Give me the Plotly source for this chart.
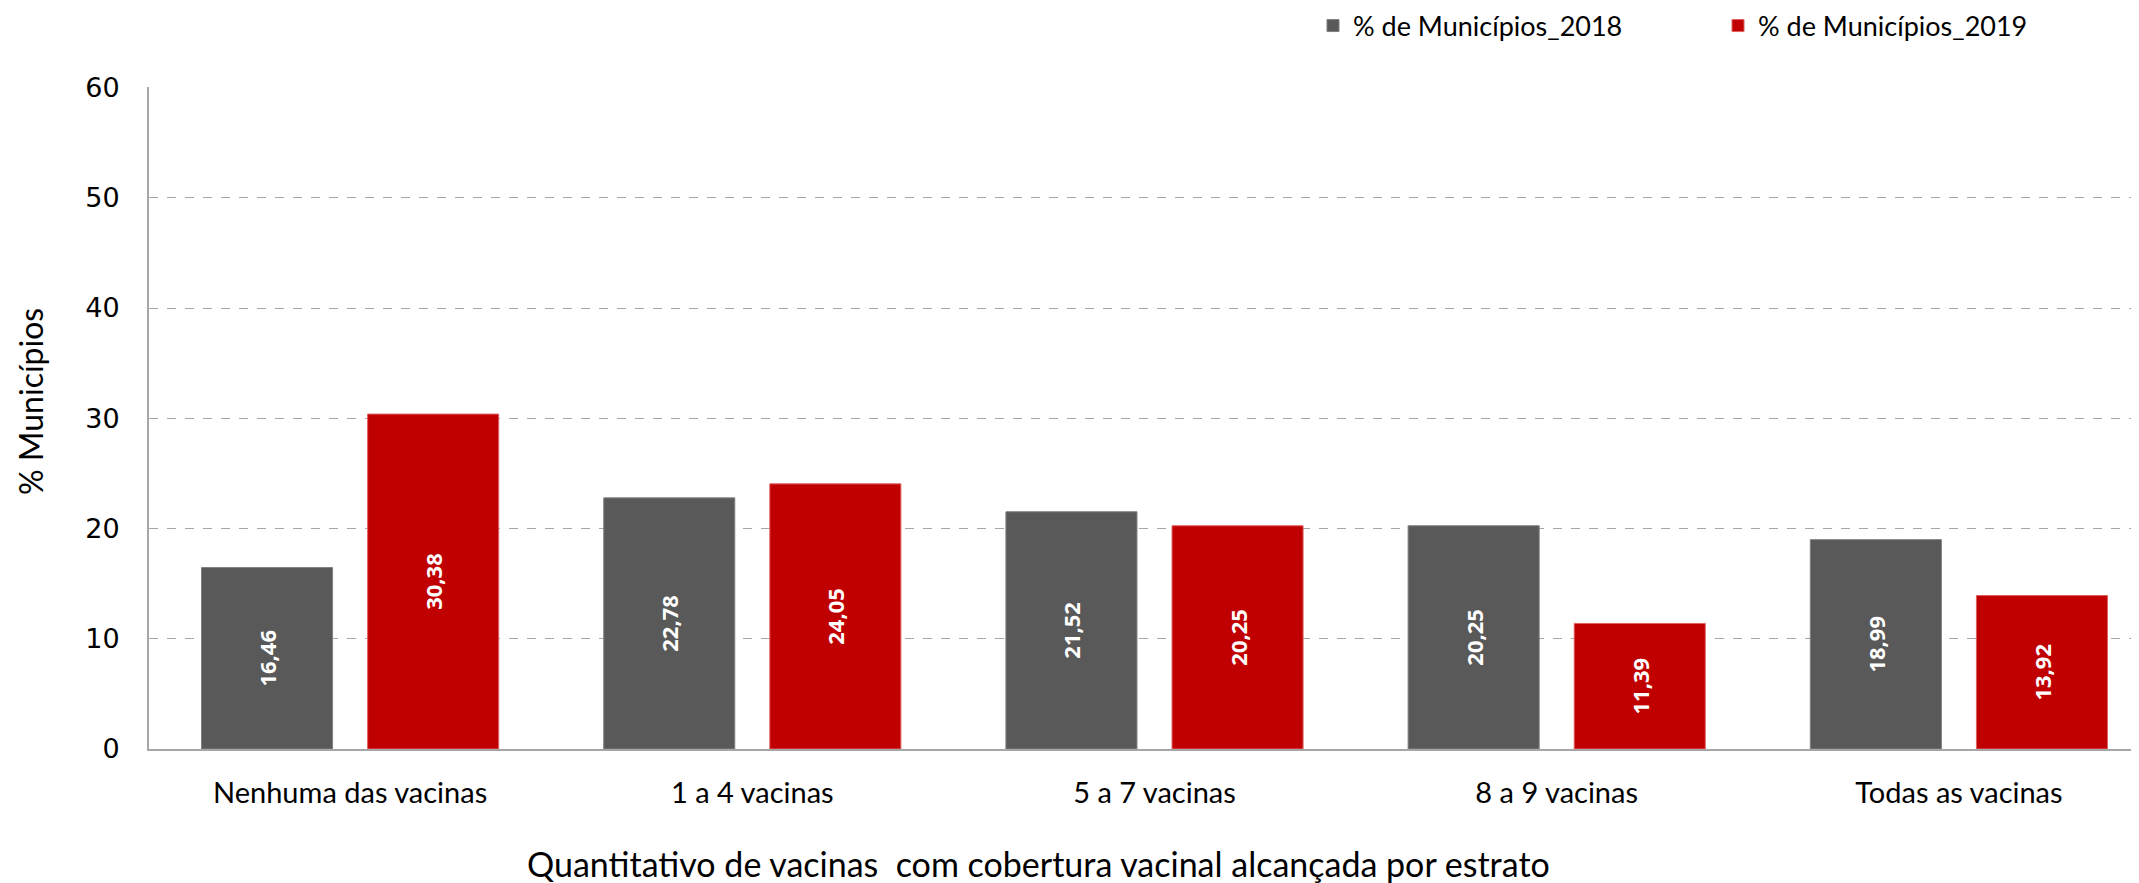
import plotly.graph_objects as go

categories = ["Nenhuma das vacinas", "1 a 4 vacinas", "5 a 7 vacinas", "8 a 9 vacinas", "Todas as vacinas"]
vals_2018 = [16.46, 22.78, 21.52, 20.25, 18.99]
vals_2019 = [30.38, 24.05, 20.25, 11.39, 13.92]
labels_2018 = ["16,46", "22,78", "21,52", "20,25", "18,99"]
labels_2019 = ["30,38", "24,05", "20,25", "11,39", "13,92"]
y_ticks = [0, 10, 20, 30, 40, 50, 60]
x_title = "Quantitativo de vacinas  com cobertura vacinal alcançada por estrato"
y_title = "% Municípios"

FONT = "Lato, Open Sans, sans-serif"

# plot area is cropped at the right edge in the reference
W, H = 2139, 883
PLOT_LEFT, PLOT_TOP, PLOT_BOTTOM_MARGIN = 141, 79, 142
CAT_WIDTH = 402.2
plot_w = W - PLOT_LEFT
plot_h = H - PLOT_TOP - PLOT_BOTTOM_MARGIN
plot_bottom = H - PLOT_BOTTOM_MARGIN
x_span = plot_w / CAT_WIDTH

fig = go.Figure()
fig.add_trace(go.Bar(
    x=categories, y=vals_2018, name="% de Municípios_2018",
    marker=dict(color="#595959", line=dict(color="#7f7f7f", width=1)),
    text=labels_2018, textposition="inside", textangle=-90, insidetextanchor="middle",
    textfont=dict(color="white", size=22, family="Open Sans", weight="bold"),
))
fig.add_trace(go.Bar(
    x=categories, y=vals_2019, name="% de Municípios_2019",
    marker=dict(color="#c00000", line=dict(color="#e06060", width=1)),
    text=labels_2019, textposition="inside", textangle=-90, insidetextanchor="middle",
    textfont=dict(color="white", size=22, family="Open Sans", weight="bold"),
))

fig.add_annotation(text=x_title, xref="paper", yref="paper",
                   x=(1030 - PLOT_LEFT) / plot_w, y=(plot_bottom - 855) / plot_h,
                   xanchor="center", yanchor="middle", showarrow=False,
                   font=dict(size=34, family=FONT, color="black"))
fig.add_annotation(text=y_title, xref="paper", yref="paper", textangle=-90,
                   x=(22 - PLOT_LEFT) / plot_w, y=(plot_bottom - 394) / plot_h,
                   xanchor="center", yanchor="middle", showarrow=False,
                   font=dict(size=32, family=FONT, color="black"))

fig.update_layout(
    width=W, height=H,
    barmode="group", bargap=0.174, bargroupgap=0.211,
    plot_bgcolor="white", paper_bgcolor="white",
    margin=dict(l=PLOT_LEFT, r=0, t=PLOT_TOP, b=PLOT_BOTTOM_MARGIN, autoexpand=False),
    font=dict(family=FONT, color="black"),
    uniformtext=dict(minsize=10, mode="show"),
    legend=dict(orientation="h", xref="container", yref="container",
                x=1305 / W, xanchor="left", y=1 - 18 / H, yanchor="middle",
                font=dict(size=27, family=FONT), traceorder="normal",
                itemwidth=30, entrywidth=360),
    xaxis=dict(range=[-0.5, -0.5 + x_span],
               showline=True, linecolor="#a6a6a6", linewidth=2, automargin=False,
               ticks="outside", ticklen=17, tickcolor="rgba(0,0,0,0)",
               tickfont=dict(size=29, family=FONT)),
    yaxis=dict(range=[0, 60.05], tickvals=y_ticks, showline=True, linecolor="#a6a6a6", linewidth=2,
               showgrid=True, gridcolor="#a6a6a6", griddash="dash", gridwidth=1.3,
               zeroline=False, automargin=False,
               ticks="outside", ticklen=22, tickcolor="rgba(0,0,0,0)",
               tickfont=dict(size=27, family="DejaVu Sans")),
)

fig.write_html("out.html")
